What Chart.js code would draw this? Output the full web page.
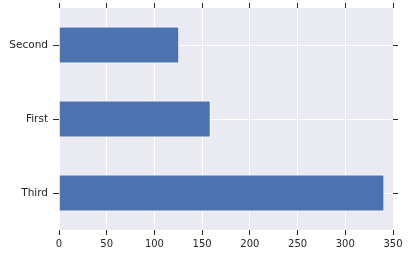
<!DOCTYPE html>
<html>
<head>
<meta charset="utf-8">
<script src="https://cdn.jsdelivr.net/npm/chart.js@4/dist/chart.umd.min.js"></script>
<style>
  html, body { margin: 0; padding: 0; background: #fff; }
  #wrap { width: 410px; height: 257px; }
</style>
</head>
<body>
<div id="wrap"><canvas id="chart"></canvas></div>
<script>
// --- DATA ---
const categories = ['Second', 'First', 'Third'];
const values = [126, 159, 341];
const xTicks = [0, 50, 100, 150, 200, 250, 300, 350];

// --- STYLE ---
const INK = '#262626';
const BAR = '#4C72B0';
const PANEL = '#EAEAF2';

// paint the seaborn-style panel behind the plot
const panelBg = {
    id: 'panelBg',
    beforeDraw(chart) {
        const { ctx, chartArea: a } = chart;
        ctx.save();
        ctx.fillStyle = PANEL;
        ctx.fillRect(a.left, a.top, a.right - a.left, a.bottom - a.top);
        ctx.restore();
    }
};

// pin axis thickness; vertical axes also drop their label overhang padding
const fixSize = (prop, v) => (scale) => {
    scale[prop] = v;
    if (prop === 'width') { scale.paddingTop = 0; scale.paddingBottom = 0; }
};

new Chart(document.getElementById('chart'), {
    type: 'bar',
    data: {
        labels: categories,
        datasets: [{
            data: values,
            backgroundColor: BAR,
            borderColor: '#ffffff',
            borderWidth: 1,
            barPercentage: 0.5,
            categoryPercentage: 1.0,
            xAxisID: 'x',
            yAxisID: 'y'
        }]
    },
    options: {
        indexAxis: 'y',
        responsive: true,
        maintainAspectRatio: false,
        animation: false,
        layout: { padding: 0 },
        plugins: { legend: { display: false }, tooltip: { enabled: false } },
        scales: {
            x: {
                type: 'linear', position: 'bottom',
                min: 0, max: 350,
                afterBuildTicks: (s) => { s.ticks = xTicks.map(v => ({ value: v })); },
                grid: { color: '#ffffff', lineWidth: 1, tickColor: INK, tickLength: 5, tickWidth: 1 },
                border: { display: false },
                ticks: { color: INK, font: { family: 'DejaVu Sans', size: 10 }, padding: 3, maxRotation: 0 },
                afterFit: fixSize('height', 27)
            },
            x2: {
                type: 'linear', position: 'top',
                min: 0, max: 350,
                afterBuildTicks: (s) => { s.ticks = xTicks.map(v => ({ value: v })); },
                grid: { drawOnChartArea: false, tickColor: INK, tickLength: 5, tickWidth: 1 },
                border: { display: false },
                ticks: { display: false },
                afterFit: fixSize('height', 8)
            },
            y: {
                type: 'category', position: 'left',
                offset: true,
                grid: { offset: false, color: '#ffffff', lineWidth: 1, tickColor: INK, tickLength: 6, tickWidth: 1 },
                border: { display: false },
                ticks: { color: INK, font: { family: 'DejaVu Sans', size: 10.5 }, padding: 5 },
                afterFit: fixSize('width', 59)
            },
            y2: {
                type: 'category', position: 'right',
                labels: categories,
                offset: true,
                grid: { offset: false, drawOnChartArea: false, tickColor: INK, tickLength: 5, tickWidth: 1 },
                border: { display: false },
                ticks: { display: false },
                afterFit: fixSize('width', 17)
            }
        }
    },
    plugins: [panelBg]
});
</script>
</body>
</html>
